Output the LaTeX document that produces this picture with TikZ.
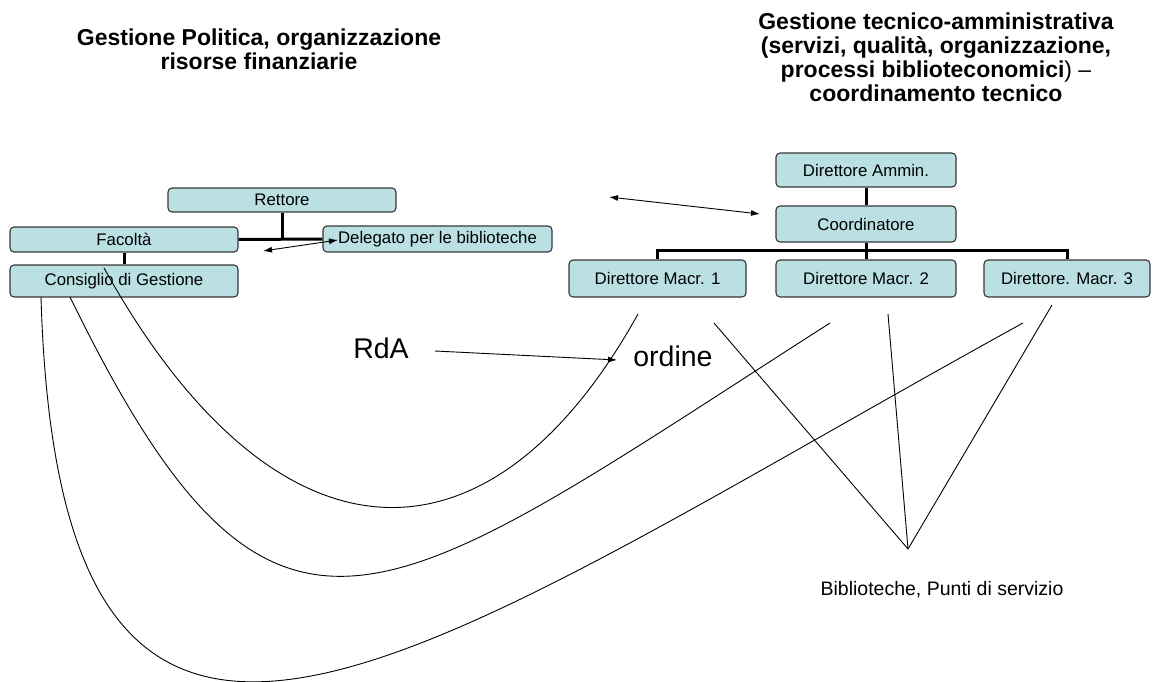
\documentclass[tikz,border=0pt]{standalone}
\usepackage{fontspec}
\setmainfont{Liberation Sans}
\usetikzlibrary{arrows.meta}
\definecolor{boxfill}{RGB}{186,224,227}
\definecolor{boxline}{RGB}{55,55,55}
\tikzset{
  orgbox/.style={draw=boxline, fill=boxfill, rounded corners=4pt, line width=1.1pt,
    inner sep=0pt, font=\fontsize{16.8}{18}\selectfont},
  bar/.style={line width=3pt},
  hair/.style={line width=0.9pt},
  tip/.style={hair, -{Latex[length=9pt,width=6pt]}},
  dbl/.style={hair, {Latex[length=9pt,width=6pt]}-{Latex[length=9pt,width=6pt]}},
  heading/.style={font=\bfseries\fontsize{23}{24}\selectfont, align=center, inner sep=0pt},
}
\begin{document}
\begin{tikzpicture}[x=1pt,y=-1pt]
\useasboundingbox (0,0) rectangle (1160,682);
% titles
\node[heading] (tl) at (259,49) {Gestione Politica, organizzazione\\risorse finanziarie};
\node[heading] (tr) at (936,57) {Gestione tecnico-amministrativa\\(servizi, qualità, organizzazione,\\processi biblioteconomici{\mdseries) –}\\coordinamento tecnico};
% left org chart
\node[orgbox, minimum width=228, minimum height=24] (rettore) at (282,200) {Rettore};
\node[orgbox, minimum width=228, minimum height=25] (facolta) at (124,239.5) {Facoltà};
\node[orgbox, minimum width=229, minimum height=26] (delegato) at (437.5,239) {Delegato per le biblioteche};
\node[orgbox, minimum width=228, minimum height=32] (consiglio) at (124,281) {Consiglio di Gestione};
% right org chart
\node[orgbox, minimum width=180, minimum height=34] (ammin) at (866,170) {Direttore Ammin.};
\node[orgbox, minimum width=180, minimum height=36] (coord) at (866,224) {Coordinatore};
\node[orgbox, minimum width=177, minimum height=37] (macr1) at (657.5,278.5) {Direttore Macr. 1};
\node[orgbox, minimum width=180, minimum height=37] (macr2) at (866,278.5) {Direttore Macr. 2};
\node[orgbox, minimum width=166, minimum height=37] (macr3) at (1067,278.5) {Direttore. Macr. 3};
% thick connectors
\draw[bar] (rettore.south) -- (rettore.south |- facolta.east);
\draw[bar] (facolta.east) -- (delegato.west);
\draw[bar] (facolta.south) -- (consiglio.north);
\draw[bar] (ammin.south) -- (coord.north);
\draw[bar] (coord.south) -- (macr2.north);
\coordinate (bus) at (866,250);
\draw[bar] (macr1.north) -- (macr1.north |- bus) -- (macr3.north |- bus) -- (macr3.north);
% double arrows
\coordinate (da1) at (263,251);
\coordinate (da2) at (338,240);
\draw[dbl] (da1) -- (da2);
\coordinate (db1) at (609,197);
\coordinate (db2) at (760,214);
\draw[dbl] (db1) -- (db2);
% RdA -> ordine
\node[font=\fontsize{28.5}{30}\selectfont, anchor=base, inner sep=0pt] (rda) at (381,358) {RdA};
\node[font=\fontsize{28.5}{30}\selectfont, anchor=base, inner sep=0pt] (ordine) at (673,366) {ordine};
\coordinate (r0) at (435,351);
\coordinate (r1) at (617,360);
\draw[tip] (r0) -- (r1);
% curves from Consiglio di Gestione
\coordinate (a0) at (104,268);
\coordinate (a1) at (638,314);
\draw[hair] (a0) .. controls (274,574) and (488,584) .. (a1);
\coordinate (b0) at (70,297);
\coordinate (b1) at (830,323);
\draw[hair] (b0) .. controls (275,717) and (380,611) .. (b1);
\coordinate (c0) at (41,297);
\coordinate (c1) at (1023,323);
\draw[hair] (c0) .. controls (60,940) and (420,655) .. (c1);
% lines to libraries
\coordinate (apex) at (908,549);
\coordinate (l1) at (714,323);
\coordinate (l2) at (888,314);
\coordinate (l3) at (1052,305);
\draw[hair] (l1) -- (apex);
\draw[hair] (l2) -- (apex);
\draw[hair] (l3) -- (apex);
\node[font=\fontsize{19.5}{22}\selectfont, anchor=base, inner sep=0pt] (bib) at (942,595) {Biblioteche, Punti di servizio};
\end{tikzpicture}
\end{document}
